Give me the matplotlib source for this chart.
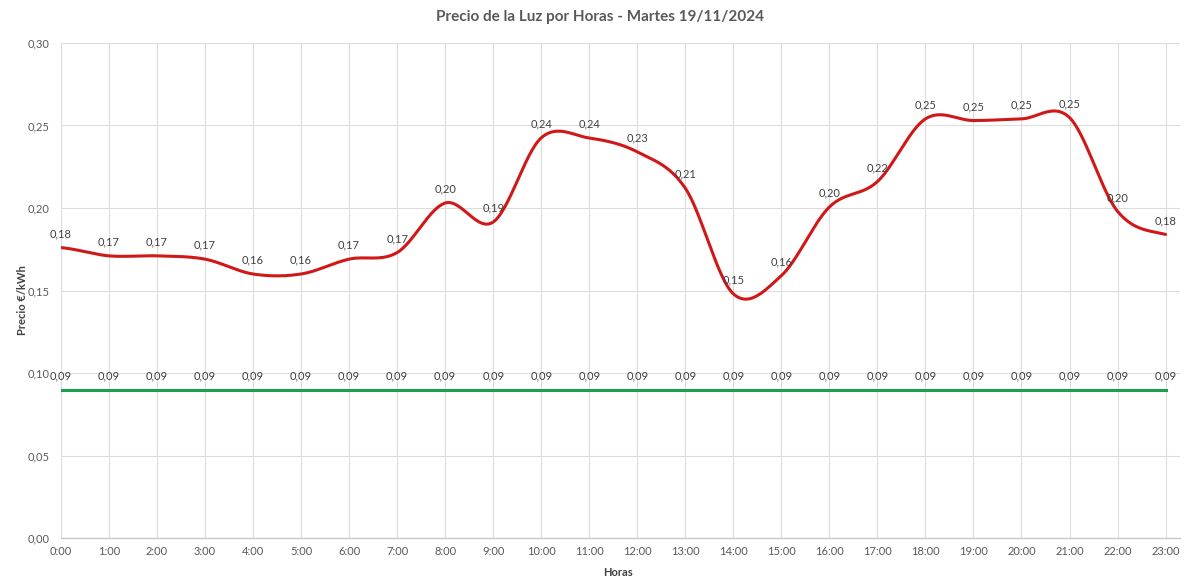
import numpy as np
import matplotlib
matplotlib.use("Agg")
import matplotlib.pyplot as plt
from matplotlib.ticker import FuncFormatter

hours = [f"{h}:00" for h in range(24)]
precio = [0.176, 0.171, 0.171, 0.169, 0.160, 0.160, 0.169, 0.173, 0.203, 0.1915,
          0.2425, 0.2424, 0.234, 0.212, 0.148, 0.159, 0.2006, 0.216, 0.254, 0.253,
          0.254, 0.2548, 0.198, 0.184]
referencia = [0.09] * 24

title = "Precio de la Luz por Horas - Martes 19/11/2024"
ylabel = "Precio €/kWh"
xlabel = "Horas"

plt.rcParams['font.family'] = ['Lato', 'DejaVu Sans']


def catmull_rom(y, n=30):
    y = np.asarray(y, dtype=float)
    x = np.arange(len(y), dtype=float)
    P = np.concatenate([[y[0]], y, [y[-1]]])
    xs, ys = [], []
    for i in range(len(y) - 1):
        p0, p1, p2, p3 = P[i], P[i + 1], P[i + 2], P[i + 3]
        t = np.linspace(0, 1, n, endpoint=False)
        yy = 0.5 * ((2 * p1) + (-p0 + p2) * t + (2 * p0 - 5 * p1 + 4 * p2 - p3) * t ** 2
                    + (-p0 + 3 * p1 - 3 * p2 + p3) * t ** 3)
        xs.append(x[i] + t)
        ys.append(yy)
    xs.append([x[-1]])
    ys.append([y[-1]])
    return np.concatenate(xs), np.concatenate(ys)


def fmt(v):
    return f"{round(v + 1e-9, 2):.2f}".replace('.', ',')


fig = plt.figure(figsize=(12, 5.88), dpi=100)
ax = fig.add_axes([0.0508, 0.085, 0.9325, 0.8419])

x = np.arange(len(hours))
sx, sy = catmull_rom(precio)
ax.plot(sx, sy, color='#D01818', lw=2.2, solid_capstyle='round', zorder=3)
ax.plot(x, referencia, color='#1E9E4A', lw=2.2, zorder=3)

lab_col = '#404040'
for xi, v in zip(x, precio):
    ax.annotate(fmt(v), (xi, v), xytext=(0, 6),
                textcoords='offset points', ha='center', va='bottom',
                fontsize=8, color=lab_col, zorder=4)
for xi, v in zip(x, referencia):
    ax.annotate(fmt(v), (xi, v), xytext=(0, 6),
                textcoords='offset points', ha='center', va='bottom',
                fontsize=8, color=lab_col, zorder=4)

ax.set_xlim(0, 23.3)
ax.set_ylim(0, 0.30)
ax.set_xticks(x)
ax.set_xticklabels(hours)
ax.set_yticks(np.arange(0, 0.301, 0.05))
ax.yaxis.set_major_formatter(FuncFormatter(lambda v, p: f"{v:.2f}".replace('.', ',')))
ax.tick_params(axis='both', length=0, labelsize=8, colors='#595959', pad=6)
ax.tick_params(axis='y', pad=8)

ax.grid(True, color='#DCDCDC', lw=0.8)
ax.set_axisbelow(True)
for s in ['top', 'right', 'left']:
    ax.spines[s].set_visible(False)
ax.spines['bottom'].set_color('#C8C8C8')
ax.spines['bottom'].set_linewidth(1)

fig.text(0.5, 0.971, title, ha='center', va='center', fontsize=11,
         fontweight='bold', color='#595959')
fig.text(0.515, 0.027, xlabel, ha='center', va='center', fontsize=8,
         fontweight='bold', color='#404040')
fig.text(0.019, 0.49, ylabel, ha='center', va='center', rotation=90, fontsize=8,
         fontweight='bold', color='#404040')

fig.savefig("out.png", dpi=100)
